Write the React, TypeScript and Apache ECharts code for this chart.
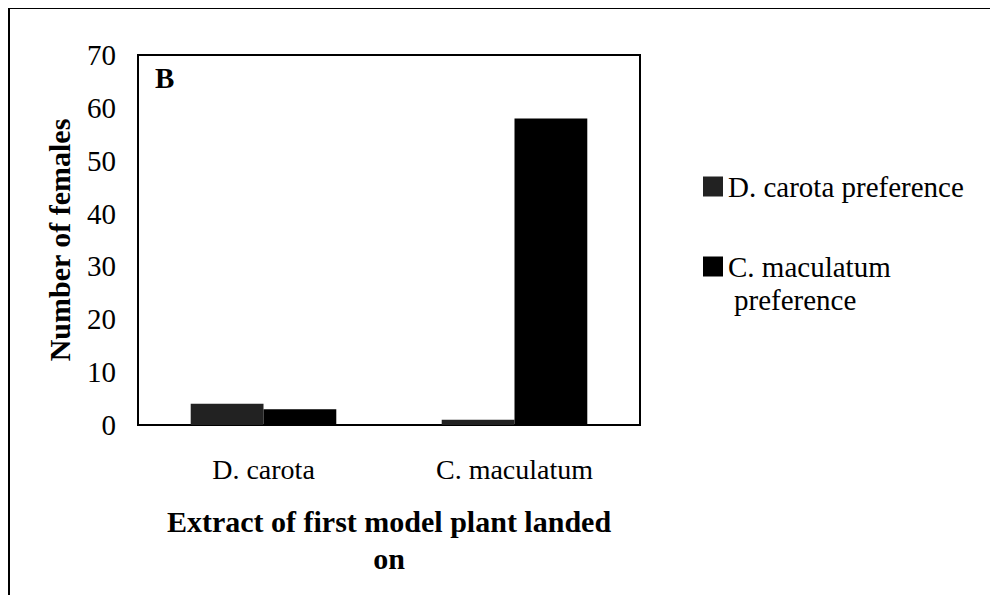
import React, { useEffect, useRef } from "react";
import * as echarts from "echarts";

const categories = ["D. carota", "C. maculatum"];
const dCarotaPref = [4, 1];
const cMaculatumPref = [3, 58];
const seriesNames = ["D. carota preference", "C. maculatum preference"];

const FONT = "'Liberation Serif', 'Times New Roman', serif";

export default function App() {
  const ref = useRef<HTMLDivElement>(null);
  useEffect(() => {
    const chart = echarts.init(ref.current!, null, { renderer: "svg" });
    chart.setOption({
      animation: false,
      backgroundColor: "#fff",
      textStyle: { fontFamily: FONT, color: "#000" },
      grid: {
        left: 138,
        right: 358,
        top: 55,
        bottom: 178,
        show: true,
        borderColor: "#000",
        borderWidth: 2,
      },
      legend: [
        {
          data: [seriesNames[0]],
          left: 703,
          top: 172,
          padding: 0,
          itemWidth: 20,
          itemHeight: 20,
          itemGap: 4,
          textStyle: { fontFamily: FONT, fontSize: 29, lineHeight: 28, color: "#000" },
          icon: "rect",
        },
        {
          data: [seriesNames[1]],
          left: 703,
          top: 252,
          padding: 0,
          itemWidth: 20,
          itemHeight: 20,
          itemGap: 4,
          formatter: () => "C. maculatum",
          textStyle: { fontFamily: FONT, fontSize: 29, lineHeight: 28, color: "#000" },
          icon: "rect",
        },
      ],
      graphic: [
        {
          type: "line",
          shape: { x1: 4, y1: 8, x2: 998, y2: 8 },
          style: { stroke: "#000", lineWidth: 2 },
          silent: true,
        },
        {
          type: "line",
          shape: { x1: 9, y1: 8, x2: 9, y2: 603 },
          style: { stroke: "#000", lineWidth: 2 },
          silent: true,
        },
        {
          type: "text",
          left: 734,
          top: 285,
          style: {
            text: "preference",
            font: `29px ${FONT}`,
            fill: "#000",
          },
        },
        {
          type: "text",
          left: 155,
          top: 63,
          style: {
            text: "B",
            font: `bold 29px ${FONT}`,
            fill: "#000",
          },
        },
      ],
      xAxis: {
        type: "category",
        data: categories,
        axisLine: { lineStyle: { color: "#000", width: 2 } },
        axisTick: { show: false },
        axisLabel: { fontFamily: FONT, fontSize: 28, color: "#000", margin: 30 },
        name: "Extract of first model plant landed\non",
        nameLocation: "middle",
        nameGap: 78,
        nameTextStyle: {
          fontFamily: FONT,
          fontSize: 30,
          fontWeight: "bold",
          color: "#000",
          lineHeight: 37,
        },
      },
      yAxis: {
        type: "value",
        min: 0,
        max: 70,
        interval: 10,
        axisLine: { show: true, lineStyle: { color: "#000", width: 2 } },
        axisTick: { show: false },
        splitLine: { show: false },
        axisLabel: { fontFamily: FONT, fontSize: 29, color: "#000", margin: 22 },
        name: "Number of females",
        nameLocation: "middle",
        nameGap: 64,
        nameTextStyle: {
          fontFamily: FONT,
          fontSize: 30,
          fontWeight: "bold",
          color: "#000",
        },
      },
      series: [
        {
          name: seriesNames[0],
          type: "bar",
          data: dCarotaPref,
          barGap: "0%",
          barCategoryGap: "42%",
          itemStyle: {
            color: "#222",
            decal: {
              symbol: "circle",
              symbolSize: 0.6,
              color: "rgba(190,190,190,0.7)",
              dashArrayX: [1, 0],
              dashArrayY: [3, 3],
            },
          },
        },
        {
          name: seriesNames[1],
          type: "bar",
          data: cMaculatumPref,
          itemStyle: { color: "#000" },
        },
      ],
    });
    return () => chart.dispose();
  }, []);
  return <div ref={ref} style={{ width: 998, height: 603, margin: -8 }} />;
}
